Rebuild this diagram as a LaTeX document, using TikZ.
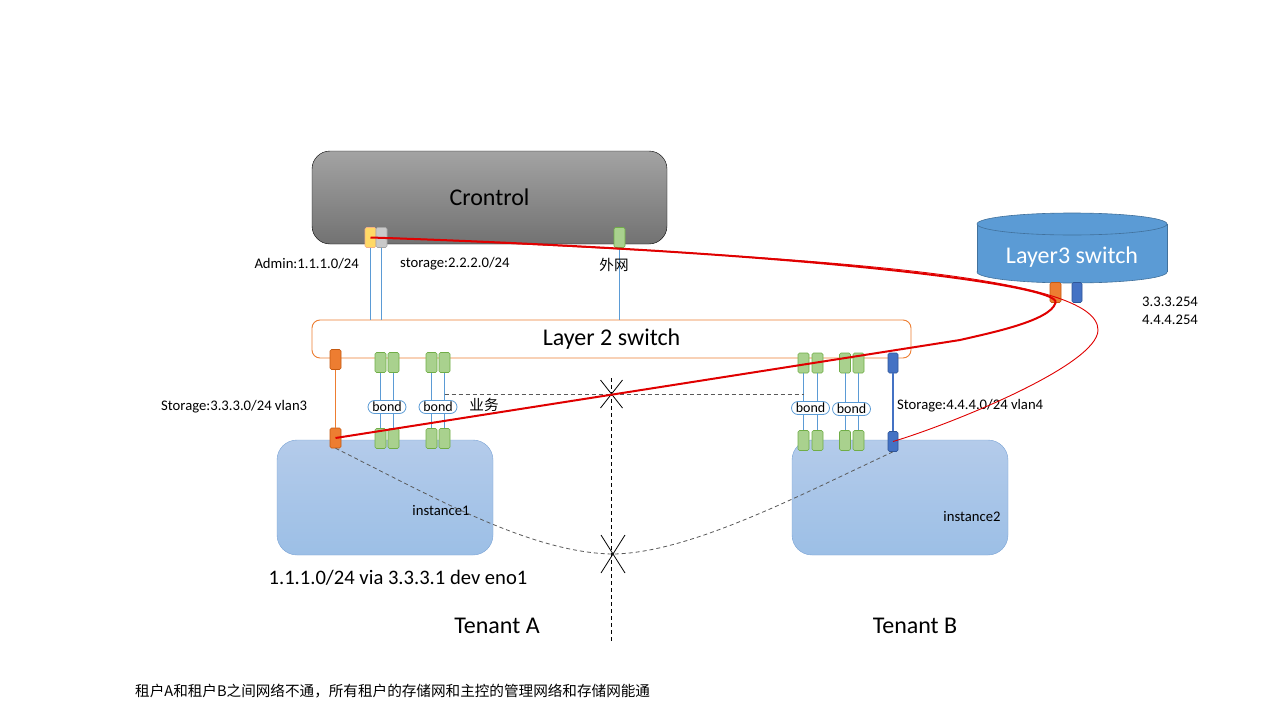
\documentclass[tikz,border=0pt]{standalone}
\usepackage{fontspec}
\setmainfont{Carlito}
\newfontfamily\cjk{Noto Sans CJK SC}
\usepackage{tikz}
\usepackage{xcolor}

\definecolor{ctrltop}{HTML}{A3A3A3}
\definecolor{ctrlbot}{HTML}{727272}
\definecolor{instop}{HTML}{B4CBEA}
\definecolor{insbot}{HTML}{9CBFE6}
\definecolor{insline}{HTML}{7BA4D6}
\definecolor{l3fill}{HTML}{5B9BD5}
\definecolor{l3line}{HTML}{41719C}
\definecolor{portorange}{HTML}{ED7D31}
\definecolor{portorangeline}{HTML}{C55A11}
\definecolor{portblue}{HTML}{4472C4}
\definecolor{portblueline}{HTML}{2F5597}
\definecolor{portgreen}{HTML}{A9D18E}
\definecolor{portgreenline}{HTML}{70AD47}
\definecolor{portyellow}{HTML}{FFD966}
\definecolor{portyellowline}{HTML}{F4B183}
\definecolor{portgray}{HTML}{C9C9C9}
\definecolor{portgrayline}{HTML}{A5A5A5}
\definecolor{wireblue}{HTML}{5B9BD5}
\definecolor{redline}{HTML}{E00000}

\tikzset{
  bigtxt/.style={font=\fontsize{24}{28}\selectfont},
  ctrlbox/.style={draw=black, rounded corners=18, top color=ctrltop, bottom color=ctrlbot, minimum width=355, minimum height=93, bigtxt},
  l2box/.style={draw=portorange, line width=0.9, fill=white, rounded corners=8, minimum width=599, minimum height=38, bigtxt},
  instbox/.style={draw=insline, rounded corners=20, top color=instop, bottom color=insbot, minimum width=216, minimum height=115},
  port/.style={rounded corners=1.5, inner sep=0, minimum width=11, minimum height=20, line width=0.6},
  orangeport/.style={port, fill=portorange, draw=portorangeline},
  blueport/.style={port, fill=portblue, draw=portblueline, minimum width=10},
  greenport/.style={port, fill=portgreen, draw=portgreenline},
  yellowport/.style={port, fill=portyellow, draw=portyellowline},
  grayport/.style={port, fill=portgray, draw=portgrayline},
  bondtag/.style={draw=wireblue, line width=0.8, fill=white, rounded corners=6.5, inner sep=0, minimum width=38, minimum height=13, font=\fontsize{14}{14}\selectfont},
  lbl/.style={font=\fontsize{14.67}{16}\selectfont, inner sep=0},
  cjklbl/.style={font=\cjk\fontsize{14.6}{16}\selectfont, inner sep=0},
  wire/.style={draw=wireblue, line width=0.8},
  grdash/.style={draw=black!65, line width=0.8, dash pattern=on 4 off 3},
}

\begin{document}
\begin{tikzpicture}[x=1pt, y=-1pt]
\useasboundingbox (0,0) rectangle (1280,720);
\fill[white] (0,0) rectangle (1280,720);

% controller and layer 2 switch
\node[ctrlbox] (ctrl) at (489.5,197.5) {Crontrol};
\node[l2box] (l2sw) at (611.5,339) {Layer 2 switch};

% layer 3 switch (cylinder)
\fill[l3fill] (1072,272) ellipse[x radius=95, y radius=11];
\draw[l3line, line width=0.6] (1072,272) ellipse[x radius=95, y radius=11];
\fill[l3fill] (977,224) rectangle (1167,272);
\draw[l3line, line width=0.6] (977,224) -- (977,272) (1167,224) -- (1167,272);
\fill[l3fill] (1072,224) ellipse[x radius=95, y radius=11];
\draw[l3line, line width=0.6] (1072,224) ellipse[x radius=95, y radius=11];
\node[bigtxt, text=white] (l3sw) at (1072,257) {Layer3 switch};

% tenant instances
\node[instbox] (inst1) at (385,497.5) {};
\node[instbox] (inst2) at (900,497.5) {};
\node[lbl] at (441,511) {instance1};
\node[lbl] at (972,517) {instance2};

% controller ports
\node[yellowport] (cpy) at (370.5,237.5) {};
\node[grayport] (cpg) at (381.5,237.5) {};
\node[greenport] (cpn) at (619.5,237.5) {};

% layer 3 ports
\node[orangeport] (l3o) at (1055.5,292.5) {};
\node[blueport] (l3b) at (1077,292.5) {};

% layer 2 ports
\node[orangeport] (lo) at (335.5,359.5) {};
\node[greenport] (lg1) at (380.5,362.5) {};
\node[greenport] (lg2) at (393.5,362.5) {};
\node[greenport] (lg3) at (431.5,362.5) {};
\node[greenport] (lg4) at (444.5,362.5) {};
\node[greenport] (rg1) at (803.5,363) {};
\node[greenport] (rg2) at (817.5,363) {};
\node[greenport] (rg3) at (845,363) {};
\node[greenport] (rg4) at (858.5,363) {};
\node[blueport] (lb) at (893,363) {};

% instance ports
\node[orangeport] (io) at (335.5,438) {};
\node[greenport] (ig1) at (380.5,438.5) {};
\node[greenport] (ig2) at (393.5,438.5) {};
\node[greenport] (ig3) at (431.5,438.5) {};
\node[greenport] (ig4) at (444.5,438.5) {};
\node[greenport] (jg1) at (803.5,440.5) {};
\node[greenport] (jg2) at (817.5,440.5) {};
\node[greenport] (jg3) at (845,440.5) {};
\node[greenport] (jg4) at (858.5,440.5) {};
\node[blueport] (ib) at (893,441.5) {};

% uplinks
\draw[wire] (cpy.south) -- (cpy.south |- l2sw.north);
\draw[wire] (cpg.south) -- (cpg.south |- l2sw.north);
\draw[wire] (cpn.south) -- (cpn.south |- l2sw.north);

% tenant links
\draw[draw=portorange, line width=1.1] (lo.south) -- (io.north);
\draw[draw=portblue, line width=1.1] (lb.south) -- (ib.north);
\foreach \n in {1,...,4} {
  \draw[wire] (lg\n.south) -- (ig\n.north);
  \draw[wire] (rg\n.south) -- (jg\n.north);
}
\node[bondtag] (bond1) at (387,407) {bond};
\node[bondtag] (bond2) at (438,407) {bond};
\node[bondtag] (bond3) at (810.5,408) {bond};
\node[bondtag] (bond4) at (851.5,409) {bond};

% labels
\node[lbl, anchor=east] (admin) at (359,264) {Admin:1.1.1.0/24};
\node[lbl, anchor=west] (stor2) at (400,264) {storage:2.2.2.0/24};
\node[cjklbl] (wan) at (614,265) {外网};
\node[lbl, anchor=west] (stor3) at (161,407) {Storage:3.3.3.0/24 vlan3};
\node[cjklbl] (biz) at (484,405) {业务};
\node[lbl, anchor=west] (stor4) at (897,406) {Storage:4.4.4.0/24 vlan4};
\node[lbl, anchor=west] (gw3) at (1142,302) {3.3.3.254};
\node[lbl, anchor=west] (gw4) at (1142,320) {4.4.4.254};
\node[font=\fontsize{20.6}{24}\selectfont] (route) at (398,578) {1.1.1.0/24 via 3.3.3.1 dev eno1};
\node[bigtxt] (tena) at (497,626) {Tenant A};
\node[bigtxt] (tenb) at (915,626) {Tenant B};
\node[cjklbl, anchor=west] (note) at (135,691) {租户A和租户B之间网络不通，所有租户的存储网和主控的管理网络和存储网能通};

% isolation between tenants
\coordinate (xa) at (611.5,394);
\coordinate (xb) at (613,554);
\draw[grdash] (lg4.south |- xa) -- (rg1.south |- xa);
\draw[draw=black, line width=0.8, dash pattern=on 4 off 3] (611.5,378) -- (611.5,643);
\draw[grdash] (io.south) .. controls (430,495) and (530,553) .. (xb)
  .. controls (690,553) and (800,495) .. (ib.south);
\draw[line width=0.8] (xa) ++(-11,-14) -- ++(22,28) (xa) ++(11,-14) -- ++(-22,28);
\draw[line width=0.8] (xb) ++(-12,-19) -- ++(24,38) (xb) ++(12,-19) -- ++(-24,38);

% routed storage paths
\coordinate (rbend) at (960,340);
\coordinate (rtip) at (1098,330);
\draw[redline, line width=2] (cpy.center) .. controls +(430,14) and +(8,-18) .. (l3o.south)
  .. controls +(-5,18) and +(30,-7) .. (rbend) -- (io.center);
\draw[redline, line width=0.9] (cpg.center) .. controls +(450,20) and +(0,-55) .. (rtip)
  .. controls +(0,35) and +(57,-17) .. (ib.center);
\end{tikzpicture}
\end{document}
